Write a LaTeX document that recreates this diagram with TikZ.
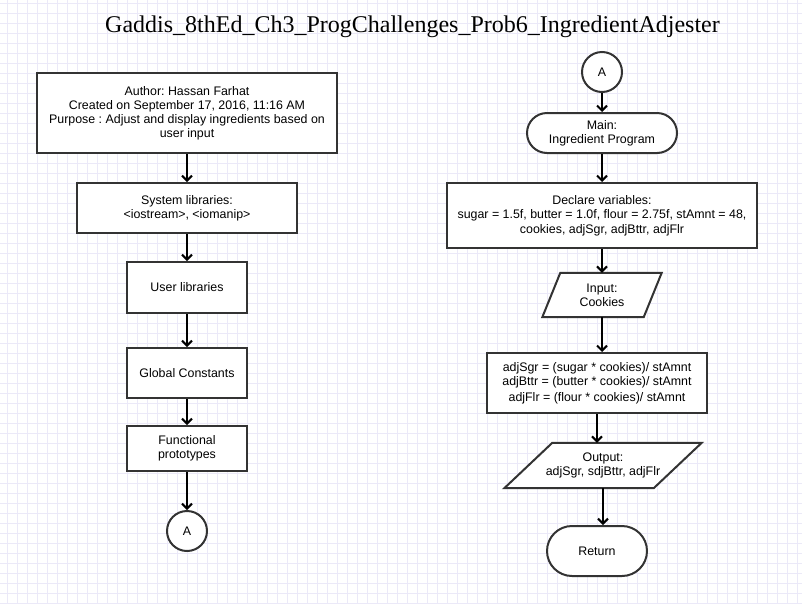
\documentclass[tikz,border=0pt]{standalone}
\usepackage{fontspec}
\setmainfont{Liberation Sans}
\newfontfamily\titlefont{Liberation Serif}
\usetikzlibrary{arrows.meta,calc}
\definecolor{gridc}{HTML}{EBE9F8}
\definecolor{bord}{HTML}{333333}
\frenchspacing
\tikzset{
  box/.style={draw=bord,line width=2pt,fill=white,align=center,inner sep=2pt,font=\fontsize{12.4}{14}\selectfont},
  plain/.style={align=center,inner sep=0pt,font=\fontsize{12.4}{14}\selectfont},
  shapeline/.style={draw=bord,line width=2pt,fill=white,line join=miter},
  conn/.style={line width=2pt,-{Straight Barb[length=5pt,width=10pt,line width=2pt]}},
}
\begin{document}
\begin{tikzpicture}[x=1pt,y=-1pt]
\useasboundingbox (0,0) rectangle (802,603);
\fill[white] (0,0) rectangle (802,603);
% grid
\foreach \i in {0,...,79} {\draw[gridc,line width=1pt] (7+10*\i,0) -- (7+10*\i,603);}
\foreach \i in {0,...,60} {\draw[gridc,line width=1pt] (0,3+10*\i) -- (802,3+10*\i);}
% title
\node[anchor=base,inner sep=0pt,font=\titlefont\fontsize{24}{28}\selectfont] (title) at (412.5,32) {Gaddis\_8thEd\_Ch3\_ProgChallenges\_Prob6\_IngredientAdjester};
% left column
\node[box,minimum width=300pt,minimum height=80pt] (b1) at (187,113) {Author: Hassan Farhat\\Created on September 17, 2016, 11:16 AM\\Purpose : Adjust and display ingredients based on\\user input};
\node[box,minimum width=220pt,minimum height=50pt] (b2) at (187,208) {System libraries:\\{<}iostream{>}, {<}iomanip{>}};
\node[box,minimum width=120pt,minimum height=51pt] (b3) at (187,287.5) {User libraries};
\node[box,minimum width=120pt,minimum height=50pt] (b4) at (187,373) {Global Constants};
\node[box,minimum width=120pt,minimum height=45pt] (b5) at (187,448.5) {Functional\\prototypes};
\node[box,circle,minimum size=40pt,inner sep=0pt] (a1) at (187,531) {A};
\draw[conn] (b1) -- (b2);
\draw[conn] (b2) -- (b3);
\draw[conn] (b3) -- (b4);
\draw[conn] (b4) -- (b5);
\draw[conn] (b5) -- (a1);
% right column
\node[box,circle,minimum size=40pt,inner sep=0pt] (a2) at (602,72) {A};
\node[box,rounded corners=20pt,minimum width=150pt,minimum height=40pt] (main) at (602,133) {Main:\\Ingredient Program};
\node[box,minimum width=310pt,minimum height=65pt] (decl) at (602,215.5) {Declare variables:\\sugar = 1.5f, butter = 1.0f, flour = 2.75f, stAmnt = 48,\\[1pt]cookies, adjSgr, adjBttr, adjFlr};
\node[plain,minimum width=101pt,minimum height=44pt] (inp) at (602,295) {};
\draw[shapeline] ([xshift=9pt]inp.north west) -- ([xshift=9pt]inp.north east) -- ([xshift=-9pt]inp.south east) -- ([xshift=-9pt]inp.south west) -- cycle;
\node[plain] at (inp.center) {Input:\\Cookies};
\node[box,minimum width=220pt,minimum height=60pt] (adj) at (597,383) {adjSgr = (sugar * cookies)/ stAmnt\\adjBttr = (butter * cookies)/ stAmnt\\[2pt]adjFlr = (flour * cookies)/ stAmnt};
\node[plain,minimum width=149pt,minimum height=45pt] (outp) at (603,465.5) {};
\draw[shapeline] ([xshift=24pt]outp.north west) -- ([xshift=24pt]outp.north east) -- ([xshift=-24pt]outp.south east) -- ([xshift=-24pt]outp.south west) -- cycle;
\node[plain] at (outp.center) {Output:\\adjSgr, sdjBttr, adjFlr};
\node[box,rounded corners=25pt,minimum width=100pt,minimum height=50pt] (ret) at (597,551) {Return};
\draw[conn] (a2) -- (main);
\draw[conn] (main) -- (decl);
\draw[conn] (decl.south) -- (decl.south |- inp.north);
\draw[conn] (inp.south) -- (inp.south |- adj.north);
\draw[conn] (adj.south) -- (adj.south |- outp.north);
\draw[conn] (outp.south) -- (outp.south |- ret.north);
\end{tikzpicture}
\end{document}
